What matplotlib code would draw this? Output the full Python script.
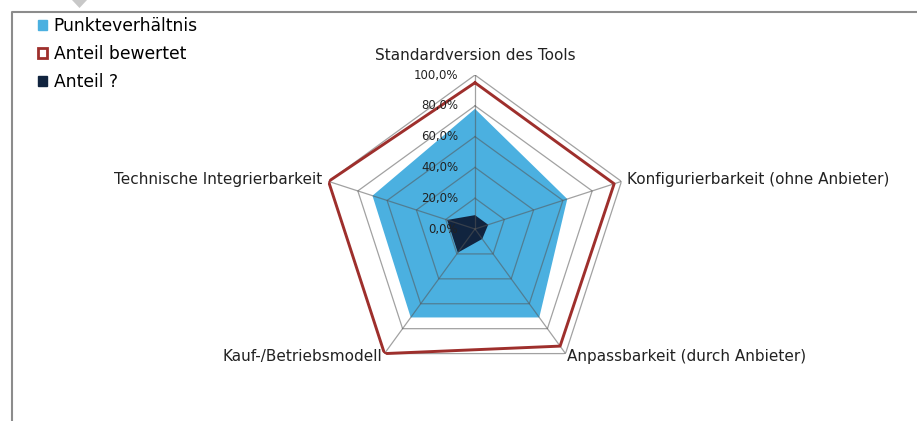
import numpy as np
import matplotlib.pyplot as plt
from matplotlib.patches import Patch, Polygon
from matplotlib.lines import Line2D
from matplotlib.transforms import offset_copy

categories = ["Standardversion des Tools", "Konfigurierbarkeit (ohne Anbieter)",
              "Anpassbarkeit (durch Anbieter)", "Kauf-/Betriebsmodell",
              "Technische Integrierbarkeit"]
punkte = [0.78, 0.63, 0.71, 0.71, 0.70]
bewertet = [0.95, 0.95, 0.94, 1.00, 1.00]
fragezeichen = [0.09, 0.09, 0.08, 0.19, 0.19]
ticks = [0.0, 0.2, 0.4, 0.6, 0.8, 1.0]
tick_labels = ["0,0%", "20,0%", "40,0%", "60,0%", "80,0%", "100,0%"]

blue = "#4bb0e0"
red = "#9e2f2c"
navy = "#11243f"
grid = "#555555"

fig = plt.figure(figsize=(9.17, 4.21), dpi=100)
ax = fig.add_axes([321 / 917, 38 / 421, 308 / 917, 308 / 421], projection="polar")
ax.set_theta_offset(np.pi / 2)
ax.set_theta_direction(-1)
ax.set_ylim(0, 1)
ax.axis("off")

n = len(categories)
ang = np.linspace(0, 2 * np.pi, n, endpoint=False)
ang_c = np.append(ang, ang[0])

def closed(v):
    return np.append(v, v[0])

ax.fill(ang_c, closed(punkte), color=blue, lw=0, zorder=1)
ax.fill(ang_c, closed(fragezeichen), color=navy, lw=0, zorder=2)

# polygon grid
for t in ticks[1:]:
    ax.plot(ang_c, [t] * (n + 1), color=grid, lw=0.9, alpha=0.55, zorder=3)
for a in ang:
    ax.plot([a, a], [0, 1], color=grid, lw=0.9, alpha=0.55, zorder=3)

ax.plot(ang_c, closed(bewertet), color=red, lw=2.1, zorder=4)

# tick labels along the top axis
tr = offset_copy(ax.transData, fig=fig, x=-17, y=0, units="dots")
for t, lab in zip(ticks, tick_labels):
    ax.text(0, t, lab, transform=tr, ha="right", va="center", fontsize=8.5,
            color="#222222", zorder=5)

# category labels
fs = 11
ax.text(ang[0], 1.08, categories[0], ha="center", va="bottom", fontsize=fs, color="#222222")
ax.text(ang[1], 1.04, categories[1], ha="left", va="center", fontsize=fs, color="#222222")
ax.text(ang[2], 1.02, categories[2], ha="left", va="center", fontsize=fs, color="#222222")
ax.text(ang[3], 1.02, categories[3], ha="right", va="center", fontsize=fs, color="#222222")
ax.text(ang[4], 1.04, categories[4], ha="right", va="center", fontsize=fs, color="#222222")

handles = [Patch(facecolor=blue, edgecolor=blue),
           Patch(facecolor="white", edgecolor=red, linewidth=2),
           Patch(facecolor=navy, edgecolor=navy)]
fig.legend(handles, ["Punkteverhältnis", "Anteil bewertet", "Anteil ?"],
           loc="upper left", bbox_to_anchor=(31 / 917, 1 - 10 / 421), frameon=False,
           fontsize=12.3, handlelength=0.55, handleheight=0.55, handletextpad=0.38,
           labelspacing=0.6, borderaxespad=0)

# outer frame and pointer
fig.add_artist(Line2D([12 / 917, 12 / 917, 1], [0, 1 - 12 / 421, 1 - 12 / 421],
                      color="#8c8c8c", lw=1.5, transform=fig.transFigure))
fig.add_artist(Polygon([[72 / 917, 1], [87 / 917, 1], [79.5 / 917, 1 - 8 / 421]],
                       closed=True, facecolor="#c8c8c8", edgecolor="none",
                       transform=fig.transFigure))

fig.savefig("out.png", dpi=100)
